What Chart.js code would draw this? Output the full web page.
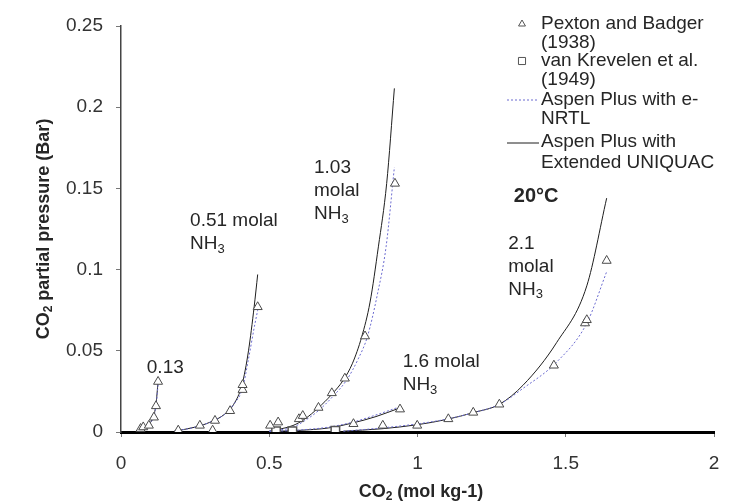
<!DOCTYPE html>
<html>
<head>
<meta charset="utf-8">
<title>CO2 partial pressure over aqueous NH3, 20°C</title>
<script src="https://cdn.jsdelivr.net/npm/chart.js@4.4.1/dist/chart.umd.min.js"></script>
<style>
  html, body { margin: 0; padding: 0; background: #fff; }
</style>
</head>
<body>
<canvas id="vleChart" width="741" height="504"></canvas>
<script>
// CO2 loading (mol/kg) vs CO2 partial pressure (bar), 20 °C
// Pexton and Badger (1938) measurements, all NH3 molalities
const pextonCO2 = [0.066, 0.075, 0.094, 0.111, 0.118, 0.125,
                   0.193, 0.266, 0.309, 0.317, 0.368, 0.41, 0.41, 0.461,
                   0.503, 0.53, 0.6, 0.613, 0.666, 0.711, 0.755, 0.823, 0.924,
                   0.784, 0.941,
                   0.883, 0.999, 1.104, 1.188, 1.276, 1.46, 1.565, 1.571, 1.638];
const pextonP   = [0.002, 0.003, 0.004, 0.009, 0.016, 0.031,
                   0.001, 0.004, 0.001, 0.007, 0.013, 0.026, 0.029, 0.077,
                   0.004, 0.006, 0.008, 0.01, 0.015, 0.024, 0.033, 0.059, 0.153,
                   0.005, 0.014,
                   0.004, 0.004, 0.008, 0.012, 0.017, 0.041, 0.067, 0.069, 0.1055];

// van Krevelen et al. (1949)
const krevelenCO2 = [0.523, 0.578, 0.723];
const krevelenP   = [0.0005, 0.0005, 0.0008];

// Aspen Plus e-NRTL curves, [CO2, pCO2]
const nrtl013 = [[0.06, 0.0005], [0.08, 0.002], [0.1, 0.006], [0.11, 0.009], [0.118, 0.016], [0.125, 0.029]];
const nrtl051 = [[0.18, 0.0005], [0.25, 0.003], [0.3, 0.006], [0.35, 0.011], [0.38, 0.017], [0.41, 0.027], [0.43, 0.045], [0.45, 0.065], [0.461, 0.075]];
const nrtl103 = [[0.5, 0.0005], [0.58, 0.003], [0.62, 0.007], [0.665, 0.013], [0.71, 0.021], [0.761, 0.032], [0.8, 0.045], [0.831, 0.0587], [0.865, 0.085], [0.894, 0.114], [0.922, 0.163]];
const nrtl16  = [[0.5, 0.0003], [0.6, 0.0012], [0.7, 0.003], [0.78, 0.006], [0.86, 0.0105], [0.94, 0.0155]];
const nrtl21  = [[0.75, 0.0005], [0.88, 0.0025], [1.0, 0.005], [1.1, 0.008], [1.19, 0.012], [1.276, 0.017], [1.357, 0.027], [1.469, 0.043], [1.571, 0.067], [1.638, 0.0987]];

// Aspen Plus Extended UNIQUAC curves
const uniq013 = [[0.06, 0.0005], [0.08, 0.002], [0.1, 0.006], [0.11, 0.01], [0.118, 0.017], [0.125, 0.031]];
const uniq051 = [[0.18, 0.0005], [0.25, 0.003], [0.3, 0.006], [0.35, 0.011], [0.38, 0.017], [0.408, 0.029], [0.43, 0.05], [0.449, 0.077], [0.461, 0.097]];
const uniq103 = [[0.5, 0.0005], [0.58, 0.004], [0.62, 0.008], [0.665, 0.0148], [0.71, 0.023], [0.75, 0.032], [0.78, 0.042], [0.812, 0.0587], [0.84, 0.08], [0.868, 0.114], [0.896, 0.153], [0.922, 0.2116]];
const uniq16  = [[0.5, 0.0003], [0.6, 0.001], [0.7, 0.0025], [0.78, 0.0055], [0.86, 0.0095], [0.94, 0.0148]];
const uniq21  = [[0.75, 0.0005], [0.88, 0.002], [1.0, 0.0045], [1.1, 0.0078], [1.19, 0.012], [1.276, 0.017], [1.357, 0.029], [1.469, 0.055], [1.571, 0.09], [1.638, 0.144]];

// axis ticks
const xTickLabels = ['0', '0.5', '1', '1.5', '2'];
const yTickLabels = ['0', '0.05', '0.1', '0.15', '0.2', '0.25'];

// curve labels, anchored in data units
const curveLabels = [
  { x: 0.087, y: 0.0394, lines: [['0.13']] },
  { x: 0.233, y: 0.130, lines: [['0.51 molal'], ['NH', '3']] },
  { x: 0.651, y: 0.1624, lines: [['1.03'], ['molal'], ['NH', '3']] },
  { x: 0.950, y: 0.0433, lines: [['1.6 molal'], ['NH', '3']] },
  { x: 1.306, y: 0.1162, lines: [['2.1'], ['molal'], ['NH', '3']] }
];

const FONT = "'Liberation Sans', Arial, sans-serif";
const TEXT = '#262626';
const SIZE = 19;

const toPts = (xs, ys) => xs.map((v, i) => ({ x: v, y: ys[i] }));
const toXY = arr => arr.map(p => ({ x: p[0], y: p[1] }));

function curve(label, pts, dotted) {
  return {
    label: label,
    data: toXY(pts),
    showLine: true,
    borderColor: dotted ? '#6b6bd0' : '#1e1e1e',
    borderWidth: 1,
    borderDash: dotted ? [2, 2] : [],
    pointRadius: 0,
    cubicInterpolationMode: 'monotone',
    order: 2
  };
}

// draws text runs; every second run is a subscript
function drawRuns(ctx, runs, x, y, size, bold, align) {
  const main = (bold ? 'bold ' : '') + size + 'px ' + FONT;
  const sub = (bold ? 'bold ' : '') + Math.round(size * 0.66) + 'px ' + FONT;
  let w = 0;
  runs.forEach((r, i) => { ctx.font = i % 2 ? sub : main; w += ctx.measureText(r).width; });
  let cx = align === 'center' ? x - w / 2 : x;
  ctx.textAlign = 'left';
  ctx.textBaseline = 'middle';
  runs.forEach((r, i) => {
    ctx.font = i % 2 ? sub : main;
    ctx.fillText(r, cx, i % 2 ? y + size * 0.28 : y);
    cx += ctx.measureText(r).width;
  });
}

const overlay = {
  id: 'overlay',
  afterDraw(chart) {
    const { ctx, scales: { x, y } } = chart;
    ctx.save();
    ctx.fillStyle = TEXT;

    // molality labels
    curveLabels.forEach(lab => {
      const px = x.getPixelForValue(lab.x);
      const py = y.getPixelForValue(lab.y);
      lab.lines.forEach((ln, i) => drawRuns(ctx, ln, px, py + i * 23, SIZE, false, 'left'));
    });
    drawRuns(ctx, ['20°C'], x.getPixelForValue(1.325), y.getPixelForValue(0.1449), 20, true, 'left');

    // axis titles
    drawRuns(ctx, ['CO', '2', ' (mol kg-1)'], 421, 492, 18, true, 'center');
    ctx.translate(44, (y.top + y.bottom) / 2);
    ctx.rotate(-Math.PI / 2);
    drawRuns(ctx, ['CO', '2', ' partial pressure (Bar)'], 0, 0, 18, true, 'center');
    ctx.restore();

    // legend
    ctx.save();
    ctx.fillStyle = TEXT;
    const tx = 541;
    [['Pexton and Badger', 24], ['(1938)', 43], ['van Krevelen et al.', 61], ['(1949)', 80],
     ['Aspen Plus with e-', 100], ['NRTL', 119], ['Aspen Plus with', 142], ['Extended UNIQUAC', 163]]
      .forEach(t => drawRuns(ctx, [t[0]], tx, t[1], SIZE, false, 'left'));
    ctx.strokeStyle = '#555';
    ctx.fillStyle = '#fff';
    ctx.lineWidth = 1;
    Chart.helpers.drawPoint(ctx, { pointStyle: 'triangle', radius: 4, rotation: 0, borderWidth: 1 }, 522, 24);
    Chart.helpers.drawPoint(ctx, { pointStyle: 'rect', radius: 5, rotation: 0, borderWidth: 1 }, 522, 61);
    ctx.beginPath();
    ctx.strokeStyle = '#6b6bd0';
    ctx.setLineDash([2, 2]);
    ctx.moveTo(507, 100); ctx.lineTo(539, 100);
    ctx.stroke();
    ctx.beginPath();
    ctx.strokeStyle = '#1e1e1e';
    ctx.setLineDash([]);
    ctx.moveTo(507, 143); ctx.lineTo(539, 143);
    ctx.stroke();
    ctx.restore();
  }
};

new Chart(document.getElementById('vleChart'), {
  type: 'scatter',
  data: {
    datasets: [
      {
        label: 'Pexton and Badger (1938)',
        data: toPts(pextonCO2, pextonP),
        pointStyle: 'triangle',
        pointRadius: 5.2,
        pointBackgroundColor: '#fff',
        pointBorderColor: '#4a4a4a',
        pointBorderWidth: 1,
        order: 0
      },
      {
        label: 'van Krevelen et al. (1949)',
        data: toPts(krevelenCO2, krevelenP),
        pointStyle: 'rect',
        pointRadius: 6,
        pointBackgroundColor: '#fff',
        pointBorderColor: '#555',
        pointBorderWidth: 1.5,
        order: 1
      },
      curve('Aspen Plus with e-NRTL', nrtl013, true),
      curve('Aspen Plus with e-NRTL', nrtl051, true),
      curve('Aspen Plus with e-NRTL', nrtl103, true),
      curve('Aspen Plus with e-NRTL', nrtl16, true),
      curve('Aspen Plus with e-NRTL', nrtl21, true),
      curve('Aspen Plus with Extended UNIQUAC', uniq013, false),
      curve('Aspen Plus with Extended UNIQUAC', uniq051, false),
      curve('Aspen Plus with Extended UNIQUAC', uniq103, false),
      curve('Aspen Plus with Extended UNIQUAC', uniq16, false),
      curve('Aspen Plus with Extended UNIQUAC', uniq21, false)
    ]
  },
  options: {
    responsive: false,
    animation: false,
    layout: { padding: { left: 0, top: 26, right: 27, bottom: 0 } },
    plugins: {
      legend: { display: false },
      tooltip: { enabled: false }
    },
    scales: {
      x: {
        type: 'linear',
        min: 0,
        max: 2,
        ticks: {
          stepSize: 0.5,
          padding: 15,
          color: '#333',
          font: { family: FONT, size: SIZE },
          callback: (v, i) => xTickLabels[i]
        },
        grid: { drawOnChartArea: false, tickLength: 5, color: '#777' },
        border: { color: '#000', width: 3 },
        afterFit: s => { s.height = 72; }
      },
      y: {
        type: 'linear',
        min: 0,
        max: 0.25,
        ticks: {
          stepSize: 0.05,
          padding: 13,
          color: '#333',
          font: { family: FONT, size: SIZE },
          callback: (v, i) => yTickLabels[i]
        },
        grid: { drawOnChartArea: false, tickLength: 5, color: '#777' },
        border: { color: '#444', width: 1.5 },
        afterFit: s => { s.width = 121; }
      }
    }
  },
  plugins: [overlay]
});
</script>
</body>
</html>
